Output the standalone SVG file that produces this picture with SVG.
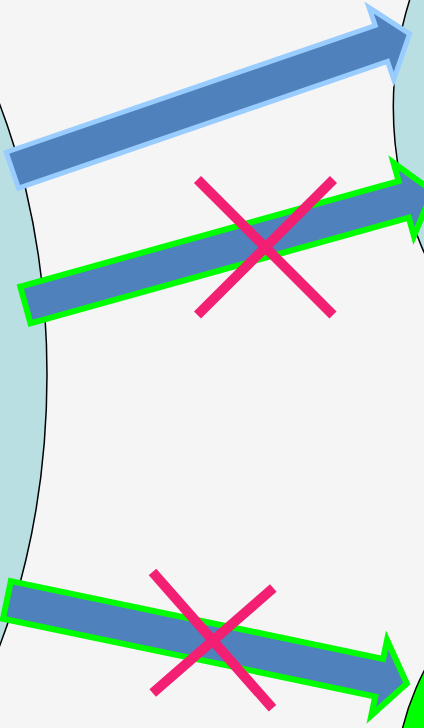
<svg xmlns="http://www.w3.org/2000/svg" width="424" height="728" viewBox="0 0 424 728">
  <style>
    .bg { fill: #f5f5f5; }
    .cloud { fill: #b9dfe3; stroke: #000000; stroke-width: 1.5; }
    .green-node { fill: #00ff00; stroke: #000000; stroke-width: 1.5; }
    .flex { fill: #4f81bd; stroke-linejoin: miter; stroke-miterlimit: 10; }
    .flex-blue { stroke: #99ccff; stroke-width: 5; }
    .flex-green { stroke: #00ff00; stroke-width: 6; }
    .cross { stroke: #f31f72; stroke-width: 10; stroke-linecap: butt; fill: none; }
  </style>
  <rect class="bg" x="0" y="0" width="424" height="728"/>
  <g id="node-left">
    <ellipse class="cloud" cx="-253" cy="375" rx="300" ry="502"/>
  </g>
  <g id="node-right-top">
    <ellipse class="cloud" cx="793.3" cy="107" rx="400" ry="378"/>
  </g>
  <g id="node-right-bottom">
    <ellipse class="green-node" cx="695" cy="790" rx="300" ry="277"/>
  </g>
  <g id="connectors">
    <g id="arrow-1" transform="translate(13 170) rotate(-18.95)">
      <polygon class="flex flex-blue" points="-0.7,-19 389.5,-19 389.5,-38 419.3,0 389.5,38 389.5,19 -0.7,19"/>
    </g>
    <g id="arrow-2" transform="translate(22.5 305.8) rotate(-15.6)">
      <polygon class="flex flex-green" points="3,-19 395.8,-19 395.8,-38 426,0 395.8,38 395.8,19 3,19"/>
    </g>
    <g id="arrow-3" transform="translate(4 599.3) rotate(11.8)">
      <polygon class="flex flex-green" points="3,-19.2 383.3,-19.2 383.3,-38.5 411.5,0 383.3,38.5 383.3,19.2 3,19.2"/>
    </g>
  </g>
  <g id="cross-1">
    <line class="cross" x1="197.5" y1="179.5" x2="333" y2="315"/>
    <line class="cross" x1="333.5" y1="179.5" x2="197.5" y2="315"/>
  </g>
  <g id="cross-2">
    <line class="cross" x1="152.5" y1="572" x2="272.5" y2="708.3"/>
    <line class="cross" x1="273.3" y1="588" x2="152.7" y2="693"/>
  </g>
</svg>
